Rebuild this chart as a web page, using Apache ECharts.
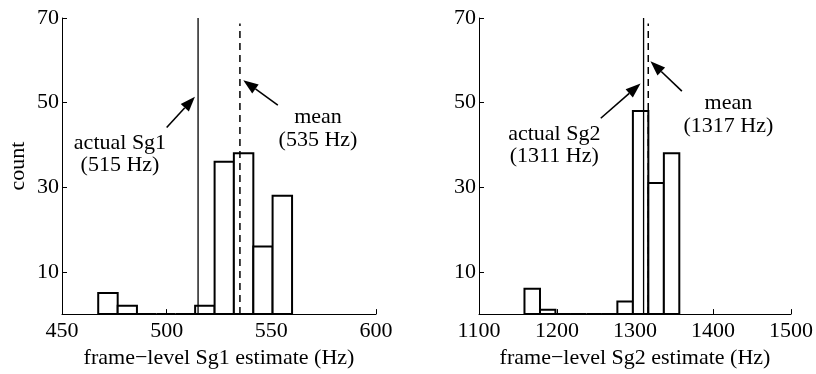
<!DOCTYPE html>
<html>
<head>
<meta charset="utf-8">
<script src="https://cdn.jsdelivr.net/npm/echarts@6/dist/echarts.min.js"></script>
<style>
html,body{margin:0;padding:0;background:#fff;}
#chart{width:816px;height:374px;}
</style>
</head>
<body>
<div id="chart"></div>
<script>
// ---- data ----
const sg1Edges = [467.3, 476.6, 485.8, 495.1, 504.3, 513.6, 522.9, 532.1, 541.4, 550.6, 559.9];
const sg1Counts = [5, 2, 0, 0, 0, 2, 36, 38, 16, 28];
const sg2Edges = [1158.3, 1178.2, 1198.0, 1217.9, 1237.7, 1257.6, 1277.4, 1297.3, 1317.1, 1337.0, 1356.8];
const sg2Counts = [6, 1, 0, 0, 0, 0, 3, 48, 31, 38];
const sg1Actual = 515;
const sg1Mean = 535;
const sg2Actual = 1311;
const sg2Mean = 1317;
const yTickValues = [10, 30, 50, 70];
const sg1XRange = [450, 600, 50];
const sg2XRange = [1100, 1500, 100];
const sg1Labels = ['actual Sg1', '(515 Hz)', 'mean', '(535 Hz)'];
const sg2Labels = ['actual Sg2', '(1311 Hz)', 'mean', '(1317 Hz)'];
const xNames = ['frame\u2212level Sg1 estimate (Hz)', 'frame\u2212level Sg2 estimate (Hz)'];

// annotation placement (data coordinates)
const ann1 = {
  text: [[477.7, 40.4], [477.7, 35.3], [572.3, 46.5], [572.3, 41.0]],
  arrows: [[500.0, 44.1, 513.5, 51.4], [553.1, 49.4, 536.6, 55.3]],
  meanTop: 68.7
};
const ann2 = {
  text: [[1196.5, 42.6], [1196.5, 37.4], [1419.7, 49.8], [1419.7, 44.5]],
  arrows: [[1256.1, 46.3, 1307.1, 54.5], [1360.1, 52.7, 1319.8, 59.8]],
  meanTop: 68.7
};

const FONT = '"Liberation Serif", "Times New Roman", serif';
const FS = 22;

function binsData(edges, counts) {
  return counts.map((c, i) => [edges[i], edges[i + 1], c]);
}

function renderBar(params, api) {
  const p0 = api.coord([api.value(0), 0]);
  const p1 = api.coord([api.value(1), api.value(2)]);
  return {
    type: 'rect',
    shape: { x: p0[0], y: p1[1], width: p1[0] - p0[0], height: p0[1] - p1[1] },
    style: { fill: '#fff', stroke: '#000', lineWidth: 2 }
  };
}

function vline(idx, x, top, dashed) {
  return {
    type: 'custom', xAxisIndex: idx, yAxisIndex: idx, silent: true, z: 5,
    data: [[x, 0, top]],
    encode: { x: 0, y: [1, 2] },
    renderItem: function (params, api) {
      const a = api.coord([api.value(0), api.value(1)]);
      const b = api.coord([api.value(0), api.value(2)]);
      return {
        type: 'line',
        shape: { x1: a[0], y1: a[1], x2: b[0], y2: b[1] },
        style: { stroke: '#000', lineWidth: dashed ? 1.5 : 1.3, lineDash: dashed ? [7, 5] : null }
      };
    }
  };
}

function arrows(idx, list) {
  return {
    type: 'custom', xAxisIndex: idx, yAxisIndex: idx, silent: true, z: 6,
    data: list,
    encode: { x: [0, 2], y: [1, 3] },
    renderItem: function (params, api) {
      const a = api.coord([api.value(0), api.value(1)]);
      const b = api.coord([api.value(2), api.value(3)]);
      const dx = b[0] - a[0], dy = b[1] - a[1];
      const L = Math.sqrt(dx * dx + dy * dy);
      const ux = dx / L, uy = dy / L;
      const hl = 15, hw = 5.5;
      const bx = b[0] - ux * hl, by = b[1] - uy * hl;
      return {
        type: 'group',
        children: [
          { type: 'line', shape: { x1: a[0], y1: a[1], x2: bx, y2: by }, style: { stroke: '#000', lineWidth: 1.6 } },
          { type: 'polygon', shape: { points: [[b[0], b[1]], [bx - uy * hw, by + ux * hw], [bx + uy * hw, by - ux * hw]] }, style: { fill: '#000' } }
        ]
      };
    }
  };
}

function texts(idx, pos, labels) {
  return {
    type: 'custom', xAxisIndex: idx, yAxisIndex: idx, silent: true, z: 7,
    data: pos.map((p, i) => [p[0], p[1], i]),
    encode: { x: 0, y: 1 },
    renderItem: function (params, api) {
      const c = api.coord([api.value(0), api.value(1)]);
      return {
        type: 'text',
        x: c[0], y: c[1],
        style: { text: labels[api.value(2)], fill: '#000', font: FS + 'px ' + FONT, align: 'center', verticalAlign: 'middle' }
      };
    }
  };
}

function xAxis(idx, r) {
  return {
    type: 'value', gridIndex: idx, min: r[0], max: r[1], interval: r[2],
    name: xNames[idx], nameLocation: 'middle', nameGap: 30,
    nameTextStyle: { fontFamily: FONT, fontSize: FS, color: '#000' },
    axisLine: { show: true, lineStyle: { color: '#000', width: 1 } },
    axisTick: { show: true, inside: true, length: 5, lineStyle: { color: '#000' } },
    axisLabel: { color: '#000', fontFamily: FONT, fontSize: FS, margin: 6, formatter: v => String(v) },
    splitLine: { show: false }
  };
}

function yAxis(idx, withName) {
  return {
    type: 'value', gridIndex: idx, min: 0, max: 70,
    name: withName ? 'count' : '', nameLocation: 'middle', nameGap: 33, nameRotate: 90,
    nameTextStyle: { fontFamily: FONT, fontSize: FS, color: '#000' },
    axisLine: { show: true, lineStyle: { color: '#000', width: 1 } },
    axisTick: { show: true, inside: true, length: 5, customValues: yTickValues, lineStyle: { color: '#000' } },
    axisLabel: { color: '#000', fontFamily: FONT, fontSize: FS, margin: 3, customValues: yTickValues, formatter: v => String(v) },
    splitLine: { show: false }
  };
}

const chart = echarts.init(document.getElementById('chart'), null, { renderer: 'canvas' });
chart.setOption({
  animation: false,
  backgroundColor: '#fff',
  grid: [
    { left: 62, right: 440, top: 18, bottom: 58 },
    { left: 479, right: 23, top: 18, bottom: 58 }
  ],
  xAxis: [xAxis(0, sg1XRange), xAxis(1, sg2XRange)],
  yAxis: [yAxis(0, true), yAxis(1, false)],
  series: [
    { type: 'custom', xAxisIndex: 0, yAxisIndex: 0, renderItem: renderBar, encode: { x: [0, 1], y: 2 }, data: binsData(sg1Edges, sg1Counts), z: 3 },
    { type: 'custom', xAxisIndex: 1, yAxisIndex: 1, renderItem: renderBar, encode: { x: [0, 1], y: 2 }, data: binsData(sg2Edges, sg2Counts), z: 3 },
    vline(0, sg1Actual, 70, false),
    vline(0, sg1Mean, ann1.meanTop, true),
    vline(1, sg2Actual, 70, false),
    vline(1, sg2Mean, ann2.meanTop, true),
    arrows(0, ann1.arrows),
    arrows(1, ann2.arrows),
    texts(0, ann1.text, sg1Labels),
    texts(1, ann2.text, sg2Labels)
  ]
});
</script>
</body>
</html>
